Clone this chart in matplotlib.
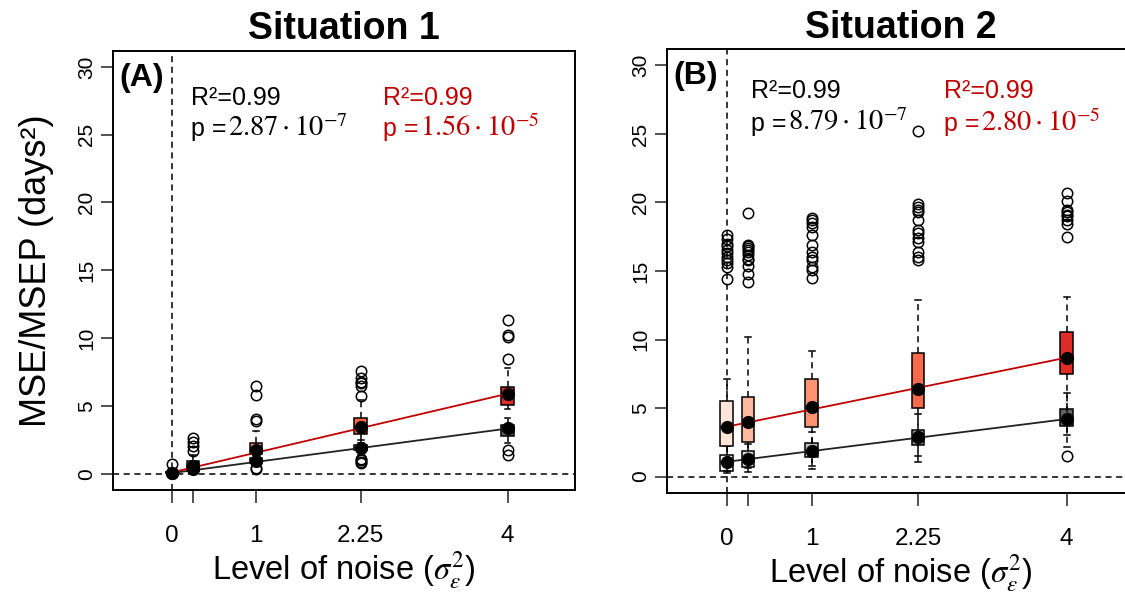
import matplotlib
matplotlib.use("Agg")
import matplotlib.pyplot as plt
import numpy as np

plt.rcParams['font.family'] = ['Liberation Sans', 'DejaVu Sans']
plt.rcParams['mathtext.fontset'] = 'stix'

# ---------------- data ----------------
levels = [0, 0.25, 1, 2.25, 4]
tick_labels = ["0", "", "1", "2.25", "4"]

# Situation 1 -- grey series (whislo, q1, med, q3, whishi)
s1_grey_whislo = [0.0, 0.05, 0.55, 1.35, 2.28]
s1_grey_q1 = [0.02, 0.2, 0.8, 1.75, 2.75]
s1_grey_med = [0.05, 0.35, 0.95, 1.9, 3.3]
s1_grey_q3 = [0.1, 0.55, 1.15, 2.1, 3.6]
s1_grey_whishi = [0.2, 0.9, 1.4, 2.5, 4.1]
s1_grey_mean = [0.06, 0.35, 0.97, 1.9, 3.35]
s1_grey_fliers = [[], [], [0.35, 0.45], [0.8, 0.9, 1.0, 1.1], [1.4, 1.75]]

# Situation 1 -- red series
s1_red_whislo = [0.0, 0.1, 0.9, 2.3, 4.77]
s1_red_q1 = [0.03, 0.4, 1.45, 2.9, 5.1]
s1_red_med = [0.07, 0.6, 1.8, 3.45, 5.8]
s1_red_q3 = [0.15, 0.95, 2.3, 4.1, 6.4]
s1_red_whishi = [0.3, 1.4, 3.15, 5.45, 7.8]
s1_red_mean = [0.08, 0.6, 1.75, 3.45, 5.85]
s1_red_fliers = [[0.7], [1.7, 2.05, 2.35, 2.6], [3.9, 4.0, 5.8, 6.5],
                 [5.75, 6.5, 6.7, 6.8, 7.05, 7.6], [8.45, 10.1, 10.2, 11.35]]

# Situation 2 -- grey series
s2_grey_whislo = [0.25, 0.3, 0.53, 1.08, 2.18]
s2_grey_q1 = [0.4, 0.72, 1.4, 2.3, 3.69]
s2_grey_med = [1.05, 1.2, 1.85, 2.85, 4.15]
s2_grey_q3 = [1.57, 1.88, 2.47, 3.39, 4.9]
s2_grey_whishi = [2.2, 2.4, 3.27, 4.6, 6.1]
s2_grey_mean = [1.08, 1.25, 1.86, 2.9, 4.2]
s2_grey_fliers = [[], [], [], [], [1.5]]

# Situation 2 -- red series
s2_red_whislo = [0.4, 0.6, 0.8, 1.5, 3.0]
s2_red_q1 = [2.23, 2.5, 3.59, 4.98, 7.48]
s2_red_med = [3.6, 3.9, 5.05, 6.3, 8.6]
s2_red_q3 = [5.51, 5.78, 7.09, 9.0, 10.57]
s2_red_whishi = [7.09, 10.2, 9.18, 12.9, 13.08]
s2_red_mean = [3.64, 3.95, 5.1, 6.36, 8.67]
s2_red_fliers = [
    [14.4, 15.3, 15.6, 15.8, 16.0, 16.3, 16.5, 16.8, 17.0, 17.3, 17.6],
    [14.2, 14.8, 15.4, 15.8, 15.9, 16.2, 16.4, 16.5, 16.7, 16.8, 16.9, 19.2],
    [14.5, 15.1, 15.3, 15.8, 16.0, 16.4, 16.9, 17.6, 18.2, 18.5, 18.7, 18.9],
    [15.8, 16.0, 16.4, 17.1, 17.4, 17.75, 18.0, 18.7, 19.3, 19.45, 19.7, 19.9, 25.2],
    [17.5, 18.4, 18.7, 19.0, 19.1, 19.3, 19.45, 20.1, 20.7],
]

# regression fits (intercept, slope)
s1_grey_fit = [0.05, 0.82]
s1_red_fit = [0.1, 1.45]
s2_grey_fit = [1.08, 0.78]
s2_red_fit = [3.64, 1.26]

# annotation texts
s1_grey_text = ["R²=0.99", "$2.87\\cdot10^{-7}$"]
s1_red_text = ["R²=0.99", "$1.56\\cdot10^{-5}$"]
s2_grey_text = ["R²=0.99", "$8.79\\cdot10^{-7}$"]
s2_red_text = ["R²=0.99", "$2.80\\cdot10^{-5}$"]

titles = ["Situation 1", "Situation 2"]
panel_letters = ["(A)", "(B)"]

grey_cols = ['#F7F7F7', '#D9D9D9', '#BDBDBD', '#969696', '#636363']
red_cols = ['#FEE5D9', '#FCBBA1', '#FC9272', '#FB6A4A', '#DE2D26']
RED = '#C00000'


def make_stats(wl, q1, med, q3, wh, fl):
    return [dict(whislo=a, q1=b, med=c, q3=d, whishi=e, fliers=f)
            for a, b, c, d, e, f in zip(wl, q1, med, q3, wh, fl)]


panels = [
    dict(grey=make_stats(s1_grey_whislo, s1_grey_q1, s1_grey_med, s1_grey_q3, s1_grey_whishi, s1_grey_fliers),
         red=make_stats(s1_red_whislo, s1_red_q1, s1_red_med, s1_red_q3, s1_red_whishi, s1_red_fliers),
         gmean=s1_grey_mean, rmean=s1_red_mean, gfit=s1_grey_fit, rfit=s1_red_fit,
         gtext=s1_grey_text, rtext=s1_red_text, rect=[0.1004, 0.1751, 0.4107, 0.7397],
         gx=0.23, rx=2.52, ry1=27.7, ry2=24.9),
    dict(grey=make_stats(s2_grey_whislo, s2_grey_q1, s2_grey_med, s2_grey_q3, s2_grey_whishi, s2_grey_fliers),
         red=make_stats(s2_red_whislo, s2_red_q1, s2_red_med, s2_red_q3, s2_red_whishi, s2_red_fliers),
         gmean=s2_grey_mean, rmean=s2_red_mean, gfit=s2_grey_fit, rfit=s2_red_fit,
         gtext=s2_grey_text, rtext=s2_red_text, rect=[0.5929, 0.170, 0.416, 0.7475],
         gx=0.29, rx=2.56, ry1=28.1, ry2=25.25),
]

fig = plt.figure(figsize=(11.25, 5.94), dpi=100)
pending = []

for i, p in enumerate(panels):
    ax = fig.add_axes(p['rect'])
    ax.set_xlim(-0.704, 4.804)
    ax.set_ylim(-1.2, 31.2)

    ax.axhline(0, color='black', lw=1.1, ls=(0, (4, 3)), zorder=1)
    ax.axvline(0, color='black', lw=1.1, ls=(0, (4, 3)), zorder=1)

    for key, cols in (('grey', grey_cols), ('red', red_cols)):
        bp = ax.bxp(p[key], positions=levels, widths=0.15, patch_artist=True,
                    showfliers=True, manage_ticks=False,
                    boxprops=dict(edgecolor='black', linewidth=1.1),
                    whiskerprops=dict(color='black', linewidth=1.1, linestyle=(0, (4, 3))),
                    capprops=dict(color='black', linewidth=1.1),
                    medianprops=dict(color='black', linewidth=2.5),
                    flierprops=dict(marker='o', markerfacecolor='none', markeredgecolor='black',
                                    markersize=7.5, markeredgewidth=1.1))
        for patch, c in zip(bp['boxes'], cols):
            patch.set_facecolor(c)
            patch.set_zorder(2)
        for cap in bp['caps']:
            m = np.mean(cap.get_xdata())
            cap.set_xdata([m - 0.035, m + 0.035])

    xx = np.array([levels[0], levels[-1]])
    ax.plot(xx, p['gfit'][0] + p['gfit'][1] * xx, color='#222222', lw=1.3, zorder=4)
    ax.plot(xx, p['rfit'][0] + p['rfit'][1] * xx, color=RED, lw=1.3, zorder=4)
    ax.plot(levels, p['gmean'], 'o', color='black', ms=8.5, zorder=5)
    ax.plot(levels, p['rmean'], 'o', color='black', ms=8.5, zorder=5)

    ax.set_xticks(levels)
    ax.set_xticklabels(tick_labels, fontsize=17.5)
    ax.set_yticks([0, 5, 10, 15, 20, 25, 30])
    ax.set_yticklabels(['0', '5', '10', '15', '20', '25', '30'], fontsize=15, rotation=90, va='center')
    ax.tick_params(axis='both', direction='out', length=9, width=1.1, color='#222222')
    ax.tick_params(axis='x', pad=16)
    ax.tick_params(axis='y', pad=3)
    for s in ax.spines.values():
        s.set_linewidth(1.4)

    ax.set_xlabel("Level of noise ($\\sigma_{\\varepsilon}^{2}$)", fontsize=23.5, labelpad=2)
    if i == 0:
        ax.set_ylabel("MSE/MSEP (days²)", fontsize=26, labelpad=17)
    ax.set_title(titles[i], fontsize=27, fontweight='bold', pad=8)

    ax.text(-0.63, 29.2, panel_letters[i], fontsize=23, fontweight='bold', va='center', ha='left')
    ax.text(p['gx'], p['ry1'], p['gtext'][0], fontsize=18, va='center', ha='left', color='black')
    ax.text(p['rx'], p['ry1'], p['rtext'][0], fontsize=18, va='center', ha='left', color=RED)
    t1 = ax.text(p['gx'], p['ry2'], "p =", fontsize=18, va='baseline', ha='left', color='black')
    t2 = ax.text(p['rx'], p['ry2'], "p =", fontsize=18, va='baseline', ha='left', color=RED)
    pending.append((ax, t1, p['gtext'][1], 'black', p['ry2']))
    pending.append((ax, t2, p['rtext'][1], RED, p['ry2']))

fig.canvas.draw()
renderer = fig.canvas.get_renderer()
for ax, t, s, c, yy in pending:
    bb = t.get_window_extent(renderer)
    xr = ax.transData.inverted().transform((bb.x1 + 1, bb.y0))[0]
    ax.text(xr, yy, s, fontsize=20.5, va='baseline', ha='left', color=c)

fig.savefig("out.png", dpi=100)
